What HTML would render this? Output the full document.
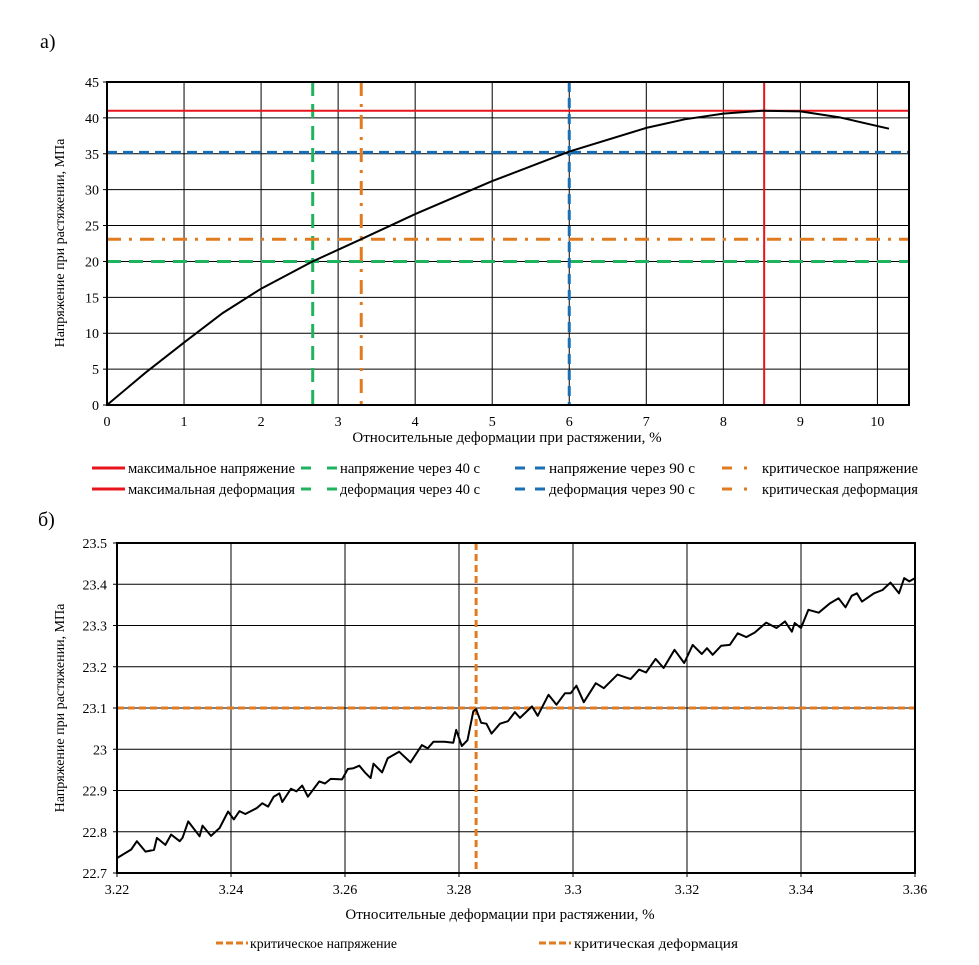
<!DOCTYPE html>
<html><head><meta charset="utf-8">
<style>
body{margin:0;background:#fff;}
svg{font-family:"Liberation Serif",serif;}
</style></head>
<body>
<svg width="979" height="960" xmlns="http://www.w3.org/2000/svg" id="root">
<text x="40" y="48" font-size="20">а)</text>
<text x="38" y="526" font-size="20">б)</text>
<g id="chartA"></g>
<g id="chartB"></g>
</svg>
<script>
// ---- Chart A data ----
const aStrain = [0,0.5,1,1.5,2,2.67,3.3,4,5,6,7,7.5,8,8.5,9,9.5,10.15];
const aStress = [0,4.5,8.7,12.8,16.2,20,23.1,26.6,31.2,35.3,38.6,39.8,40.6,41,40.9,40.1,38.5];
const aXTicks = [0,1,2,3,4,5,6,7,8,9,10];
const aYTicks = [0,5,10,15,20,25,30,35,40,45];
const aMaxStress = 41, aMaxStrain = 8.53;
const a40Stress = 20, a40Strain = 2.67;
const a90Stress = 35.2, a90Strain = 6.0;
const aCritStress = 23.1, aCritStrain = 3.3;

// ---- Chart B data ----
const bStrain = [3.220,3.2225,3.2235,3.225,3.2265,3.227,3.2285,3.2295,3.231,3.2315,3.2325,3.2345,3.235,3.2365,3.238,3.2395,3.2405,3.2415,3.2425,3.2445,3.2455,3.2465,3.2475,3.2485,3.249,3.2505,3.2515,3.2525,3.2535,3.2555,3.2565,3.2575,3.2595,3.2605,3.2615,3.2625,3.2635,3.2645,3.265,3.2665,3.2675,3.2695,3.2715,3.2735,3.2745,3.2755,3.2775,3.279,3.2795,3.2805,3.2815,3.2825,3.283,3.2839,3.2848,3.2857,3.2872,3.2886,3.2898,3.2907,3.2928,3.2938,3.2957,3.2971,3.2986,3.2996,3.3006,3.3019,3.304,3.3054,3.3078,3.3101,3.3116,3.3128,3.3145,3.3159,3.3178,3.3195,3.321,3.3226,3.3235,3.3245,3.326,3.3275,3.3289,3.3304,3.3319,3.3339,3.3357,3.3372,3.3384,3.3389,3.34,3.3413,3.3431,3.3451,3.3466,3.3478,3.3489,3.3498,3.3507,3.3528,3.3543,3.3557,3.3572,3.3581,3.359,3.36];
const bStress = [22.736,22.757,22.777,22.752,22.756,22.785,22.768,22.793,22.777,22.785,22.825,22.789,22.815,22.79,22.809,22.849,22.83,22.85,22.843,22.857,22.869,22.861,22.885,22.893,22.872,22.904,22.898,22.912,22.885,22.922,22.917,22.928,22.927,22.952,22.954,22.96,22.944,22.93,22.965,22.944,22.978,22.994,22.968,23.01,23.002,23.018,23.018,23.016,23.047,23.008,23.022,23.092,23.097,23.064,23.062,23.038,23.062,23.068,23.09,23.076,23.104,23.081,23.132,23.108,23.136,23.136,23.154,23.114,23.16,23.148,23.181,23.17,23.193,23.186,23.219,23.197,23.241,23.209,23.253,23.231,23.245,23.229,23.251,23.253,23.281,23.272,23.283,23.307,23.294,23.31,23.285,23.306,23.294,23.338,23.331,23.354,23.366,23.344,23.372,23.378,23.358,23.378,23.386,23.404,23.378,23.415,23.407,23.415];
const bXTicks = [3.22,3.24,3.26,3.28,3.3,3.32,3.34,3.36];
const bXTickLabels = ["3.22","3.24","3.26","3.28","3.3","3.32","3.34","3.36"];
const bYTicks = [22.7,22.8,22.9,23,23.1,23.2,23.3,23.4,23.5];
const bYTickLabels = ["22.7","22.8","22.9","23","23.1","23.2","23.3","23.4","23.5"];
const bCritStress = 23.1, bCritStrain = 3.283;

const NS = "http://www.w3.org/2000/svg";
function mk(parent, tag, attrs, text){
  const e = document.createElementNS(NS, tag);
  for (const k in attrs) e.setAttribute(k, attrs[k]);
  if (text !== undefined) e.textContent = text;
  parent.appendChild(e);
  return e;
}
function scale(d0,d1,p0,p1){ return v => p0 + (v-d0)/(d1-d0)*(p1-p0); }

// ===== Chart A =====
(function(){
  const g = document.getElementById('chartA');
  const L=107,T=82,R=909,B=405;
  const x = scale(0,10.41,L,R), y = scale(0,45,B,T);
  aXTicks.forEach(t=>{
    const l = mk(g,'line',{x1:x(t),x2:x(t),y1:T,y2:B,stroke:'#000','stroke-width':1});
    
    
    const tx = mk(g,'text',{x:x(t),y:B+21,'font-size':14,'text-anchor':'middle'},String(t));
    
    
  });
  aYTicks.forEach(t=>{
    const l = mk(g,'line',{x1:L-4,x2:R,y1:y(t),y2:y(t),stroke:'#000','stroke-width':1});
    
    
    const tx = mk(g,'text',{x:L-8,y:y(t)+5,'font-size':14,'text-anchor':'end'},String(t));
    
    
  });
  function hline(v,c,w,da,name){ const e=mk(g,'line',{x1:L,x2:R,y1:y(v),y2:y(v),stroke:c,'stroke-width':w,'stroke-dasharray':da});   }
  function vline(v,c,w,da,name){ const e=mk(g,'line',{x1:x(v),x2:x(v),y1:T,y2:B,stroke:c,'stroke-width':w,'stroke-dasharray':da});   }
  hline(a40Stress,'#1fb35e',3,'14 8','stress-40s-line');
  vline(a40Strain,'#1fb35e',3,'14 8','strain-40s-line');
  hline(aCritStress,'#e07b20',3,'14 8 3 8','critical-stress-line');
  vline(aCritStrain,'#e07b20',3,'14 8 3 8','critical-strain-line');
  hline(a90Stress,'#1a6fb5',3,'10 6','stress-90s-line');
  vline(a90Strain,'#1a6fb5',3,'10 6','strain-90s-line');
  hline(aMaxStress,'#e8141c',2,'','max-stress-line');
  vline(aMaxStrain,'#e8141c',2,'','max-strain-line');
  const d = aStrain.map((v,i)=>(i?'L':'M')+x(v).toFixed(1)+' '+y(aStress[i]).toFixed(1)).join(' ');
  const p = mk(g,'path',{d:d,fill:'none',stroke:'#000','stroke-width':2});
  
  
  const f = mk(g,'rect',{x:L,y:T,width:R-L,height:B-T,fill:'none',stroke:'#000','stroke-width':2});
  
  
  const xt = mk(g,'text',{x:507,y:442,'font-size':15,'text-anchor':'middle'},'Относительные деформации при растяжении, %');
  
  
  const yt = mk(g,'text',{x:0,y:0,'font-size':14,'text-anchor':'middle',transform:'translate(64,243) rotate(-90)'},'Напряжение при растяжении, МПа');
  
  
  const leg = [
    [92,33,468,'#e8141c','', 'максимальное напряжение',128,167],
    [92,33,489,'#e8141c','', 'максимальная деформация',128,167],
    [301,36,468,'#1fb35e','10 16','напряжение через 40 с',340,140],
    [301,36,489,'#1fb35e','10 16','деформация через 40 с',340,140],
    [515,30,468,'#1a6fb5','10 10','напряжение через 90 с',549,146],
    [515,30,489,'#1a6fb5','10 10','деформация через 90 с',549,146],
    [722,31,468,'#e07b20','10 12 3 20','критическое напряжение',762,156],
    [722,31,489,'#e07b20','10 12 3 20','критическая деформация',762,156]
  ];
  leg.forEach(e=>{
    const ln = mk(g,'line',{x1:e[0],x2:e[0]+e[1],y1:e[2],y2:e[2],stroke:e[3],'stroke-width':3,'stroke-dasharray':e[4]});
    
    
    const t = mk(g,'text',{x:e[6],y:e[2]+5,'font-size':15,textLength:e[7],lengthAdjust:'spacingAndGlyphs'},e[5]);
    
    
  });
})();

// ===== Chart B =====
(function(){
  const g = document.getElementById('chartB');
  const L=117,T=543,R=915,B=873;
  const x = scale(3.22,3.36,L,R), y = scale(22.7,23.5,B,T);
  bXTicks.forEach((t,i)=>{
    const l = mk(g,'line',{x1:x(t),x2:x(t),y1:T,y2:B+4,stroke:'#000','stroke-width':1});
    
    
    const tx = mk(g,'text',{x:x(t),y:B+21,'font-size':14,'text-anchor':'middle'},bXTickLabels[i]);
    
    
  });
  bYTicks.forEach((t,i)=>{
    const l = mk(g,'line',{x1:L-4,x2:R,y1:y(t),y2:y(t),stroke:'#000','stroke-width':1});
    
    
    const tx = mk(g,'text',{x:L-10,y:y(t)+5,'font-size':14,'text-anchor':'end'},bYTickLabels[i]);
    
    
  });
  const h = mk(g,'line',{x1:L,x2:R,y1:y(bCritStress),y2:y(bCritStress),stroke:'#e07b20','stroke-width':3,'stroke-dasharray':'7 4'});
  
  
  const v = mk(g,'line',{x1:x(bCritStrain),x2:x(bCritStrain),y1:T,y2:B,stroke:'#e07b20','stroke-width':3,'stroke-dasharray':'7 4'});
  
  
  const d = bStrain.map((s,i)=>(i?'L':'M')+x(s).toFixed(1)+' '+y(bStress[i]).toFixed(1)).join(' ');
  const p = mk(g,'path',{d:d,fill:'none',stroke:'#000','stroke-width':2,'stroke-linejoin':'round'});
  
  
  const f = mk(g,'rect',{x:L,y:T,width:R-L,height:B-T,fill:'none',stroke:'#000','stroke-width':2});
  
  
  const xt = mk(g,'text',{x:500,y:919,'font-size':15,'text-anchor':'middle'},'Относительные деформации при растяжении, %');
  
  
  const yt = mk(g,'text',{x:0,y:0,'font-size':14,'text-anchor':'middle',transform:'translate(64,708) rotate(-90)'},'Напряжение при растяжении, МПа');
  
  
  [[216,250,'критическое напряжение',147],[539,574,'критическая деформация',164]].forEach(e=>{
    const ln = mk(g,'line',{x1:e[0],x2:e[0]+32,y1:943,y2:943,stroke:'#e07b20','stroke-width':3,'stroke-dasharray':'7 3'});
    
    
    const t = mk(g,'text',{x:e[1],y:948,'font-size':14,textLength:e[3],lengthAdjust:'spacingAndGlyphs'},e[2]);
    
    
  });
})();
</script>
</body></html>
